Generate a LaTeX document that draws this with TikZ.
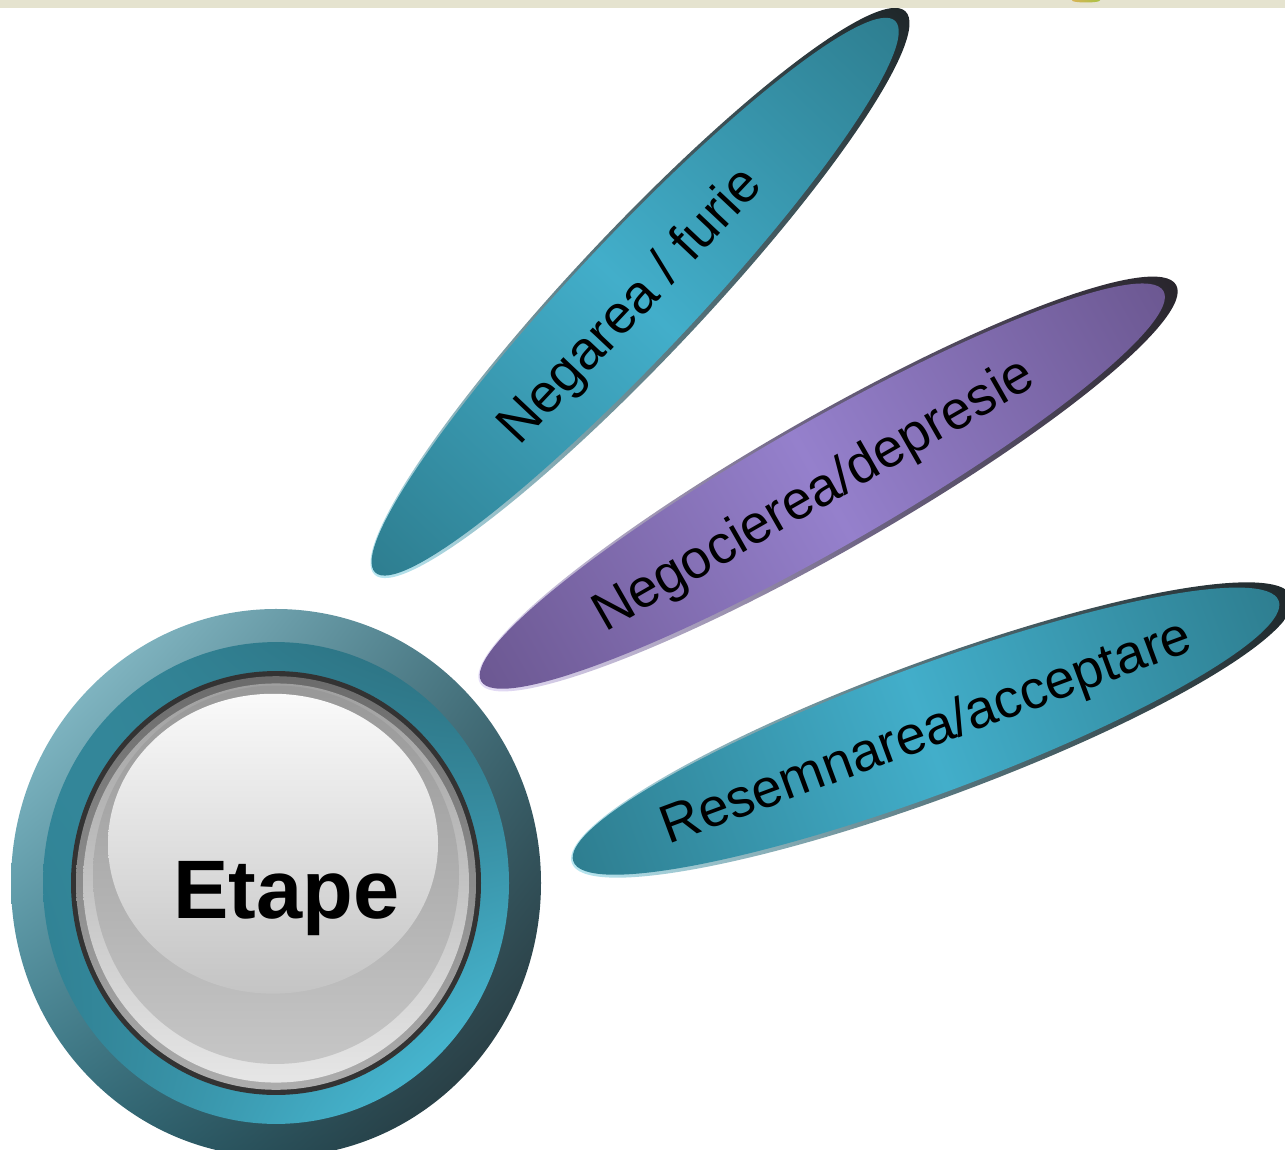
\documentclass[tikz,border=0pt]{standalone}
\usepackage{fontspec}
\setmainfont{Liberation Sans}
\usetikzlibrary{shadings}
\definecolor{stripc}{HTML}{E5E3CF}
\definecolor{ringA}{HTML}{9ACFDB}
\definecolor{ringB}{HTML}{3F6F7B}
\definecolor{ringC}{HTML}{2E6E7D}
\definecolor{ringD}{HTML}{222C30}
\definecolor{tealA}{HTML}{348A9D}
\definecolor{tealB}{HTML}{2A6A79}
\definecolor{tealC}{HTML}{2F7D8F}
\definecolor{tealD}{HTML}{4FCBE8}
\definecolor{rimdark}{HTML}{1F272A}
\definecolor{rimlight}{HTML}{B8E6F0}
\definecolor{rimmid}{HTML}{56747C}
\definecolor{tealend}{HTML}{2E7E90}
\definecolor{tealmid}{HTML}{42AECA}
\definecolor{purend}{HTML}{6C5892}
\definecolor{purmid}{HTML}{9580CC}
\definecolor{primlight}{HTML}{E5DDF7}
\definecolor{primmid}{HTML}{6F6585}
\definecolor{primdark}{HTML}{28252C}
\definecolor{blackring}{HTML}{333333}
\definecolor{faceA}{HTML}{6B6B6B}
\definecolor{faceB}{HTML}{ADADAD}
\definecolor{ringlA}{HTML}{A0A0A0}
\definecolor{ringlB}{HTML}{E6E6E6}
\definecolor{innerA}{HTML}{989898}
\definecolor{innerB}{HTML}{C6C6C6}
\definecolor{hlA}{HTML}{FAFAFA}
\definecolor{hlB}{HTML}{C4C4C4}
\definecolor{decoA}{HTML}{D8B457}
\definecolor{decoB}{HTML}{A9C244}
\tikzset{
  lbl/.style={font=\fontsize{54}{62}\selectfont, text=black, inner sep=0pt},
  tealrim/.style={left color=rimlight, right color=rimdark, middle color=rimmid},
  tealfill/.style={left color=tealend, right color=tealend, middle color=tealmid},
  purrim/.style={left color=primlight, right color=primdark, middle color=primmid},
  purfill/.style={left color=purend, right color=purend, middle color=purmid},
}
\begin{document}
\begin{tikzpicture}[x=1pt,y=1pt]
\useasboundingbox (0,0) rectangle (1285,-1150);
\fill[white] (0,0) rectangle (1285,-1150);
% ellipse 1
\begin{scope}[transform canvas={shift={(640,-293)},rotate=46.7}]
  \shade[tealrim] (0,0) ellipse [x radius=387, y radius=64];
  \shade[tealfill] (-6,1) ellipse [x radius=379, y radius=60];
  \node[lbl] (t1) at (-16,-4) {Negarea / furie};
\end{scope}
% ellipse 2
\begin{scope}[transform canvas={shift={(828,-484)},rotate=29.76}]
  \shade[purrim] (0,0) ellipse [x radius=401, y radius=67];
  \shade[purfill] (-6,1) ellipse [x radius=393, y radius=63];
  \node[lbl] (t2) at (-18,-4) {Negocierea/depresie};
\end{scope}
% ellipse 3
\begin{scope}[transform canvas={shift={(932,-730)},rotate=20.29}]
  \shade[tealrim] (0,0) ellipse [x radius=384, y radius=68];
  \shade[tealfill] (-6,1) ellipse [x radius=376, y radius=64];
  \node[lbl] (t3) at (-6,-2) {Resemnarea/acceptare};
\end{scope}
% central button
\begin{scope}[shift={(276,-883)}, yscale=1.034]
  \shade[upper left=ringA, upper right=ringB, lower left=ringC, lower right=ringD] (0,0) circle (265);
  \shade[upper left=tealA, upper right=tealB, lower left=tealC, lower right=tealD] (0,0) circle (233);
  \fill[blackring] (0,0) circle (205);
  \shade[top color=faceA, bottom color=faceB] (0,0) circle (200);
  \shade[top color=ringlA, bottom color=ringlB] (0,0) circle (193);
  \shade[top color=innerA, bottom color=innerB] (0,8) circle (183);
  \shade[top color=hlA, bottom color=hlB] (-3,38) ellipse [x radius=165, y radius=145];
\end{scope}
\node[font=\bfseries\fontsize{83}{90}\selectfont, anchor=base, inner sep=0pt] (etape) at (286.5,-918) {Etape};
% top strip
\fill[stripc] (0,0) rectangle (1285,-8.5);
\shade[left color=decoA, right color=decoB] (1086,-0.5) ellipse [x radius=14, y radius=2];
\end{tikzpicture}
\end{document}
